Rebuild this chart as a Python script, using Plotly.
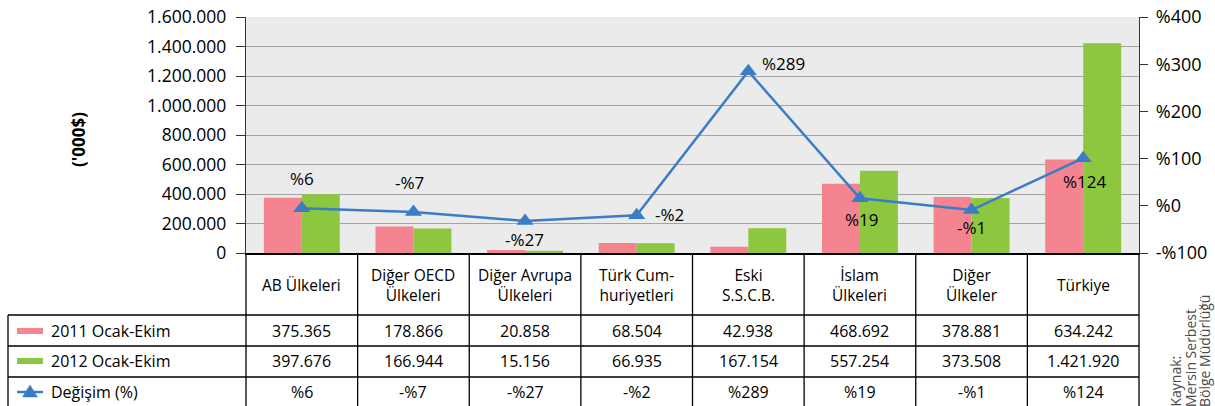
import plotly.graph_objects as go

# ---------------- data ----------------
categories = ["AB Ülkeleri", "Diğer OECD<br>Ülkeleri", "Diğer Avrupa<br>Ülkeleri",
              "Türk Cum-<br>huriyetleri", "Eski<br>S.S.C.B.", "İslam<br>Ülkeleri",
              "Diğer<br>Ülkeler", "Türkiye"]
series_names = ["2011 Ocak-Ekim", "2012 Ocak-Ekim", "Değişim (%)"]
values_2011 = [375365, 178866, 20858, 68504, 42938, 468692, 378881, 634242]
values_2012 = [397676, 166944, 15156, 66935, 167154, 557254, 373508, 1421920]
change_labels = ["%6", "-%7", "-%27", "-%2", "%289", "%19", "-%1", "%124"]
# positions of the line markers as drawn in the picture (right axis, %)
change_drawn = [-5, -13, -32, -20, 285, 16, -9, 101]
left_tick_vals = [0, 200000, 400000, 600000, 800000, 1000000, 1200000, 1400000, 1600000]
right_tick_vals = [-100, 0, 100, 200, 300, 400]
right_tick_text = ["-%100", "%0", "%100", "%200", "%300", "%400"]
y_title = "('000$)"
source_lines = ["Kaynak:", "Mersin Serbest", "Bölge Müdürlüğü"]

# ---------------- style ----------------
PINK = "#f4848f"
GREEN = "#8dc63f"
BLUE = "#3a7dc5"
FONT = "Open Sans"
FS = 15.5

W, H = 1215, 406
L, R, T, B = 246, 1139, 17, 253


def px(xp):
    return (xp - L) / (R - L)


def py(yp):
    return (B - yp) / (B - T)


def fmt(v):
    return f"{v:,}".replace(",", ".")


fig = go.Figure()
fig.add_trace(go.Bar(x=categories, y=values_2011, name=series_names[0],
                     marker=dict(color=PINK, line=dict(width=0))))
fig.add_trace(go.Bar(x=categories, y=values_2012, name=series_names[1],
                     marker=dict(color=GREEN, line=dict(width=0))))
fig.add_trace(go.Scatter(x=categories, y=change_drawn, name=series_names[2], yaxis="y2",
                         mode="lines+markers",
                         line=dict(color=BLUE, width=2.5),
                         marker=dict(symbol="triangle-up", size=15, color=BLUE)))

# data labels of the line (offsets in pixels are style)
label_style = [
    dict(xanchor="center", xshift=0, yshift=30),
    dict(xanchor="center", xshift=-4, yshift=29),
    dict(xanchor="center", xshift=-1, yshift=-19),
    dict(xanchor="left", xshift=16, yshift=1),
    dict(xanchor="left", xshift=12, yshift=8),
    dict(xanchor="center", xshift=2, yshift=-21),
    dict(xanchor="center", xshift=0, yshift=-17),
    dict(xanchor="center", xshift=1, yshift=-23),
]
annotations = []
for c, v, t, st in zip(categories, change_drawn, change_labels, label_style):
    annotations.append(dict(x=c, y=v, xref="x", yref="y2", text=t, showarrow=False,
                            yanchor="middle", font=dict(size=17, color="black"), **st))

# table header (category names)
for c in categories:
    annotations.append(dict(x=c, xref="x", y=py(285), yref="paper", text=c, showarrow=False,
                            xanchor="center", yanchor="middle", align="center",
                            font=dict(size=FS, color="black")))

# table rows
row_centers = [331, 361, 392]
rows = [[fmt(v) for v in values_2011], [fmt(v) for v in values_2012], change_labels]
for yc, row in zip(row_centers, rows):
    for c, t in zip(categories, row):
        annotations.append(dict(x=c, xref="x", y=py(yc), yref="paper", text=t, showarrow=False,
                                xanchor="center", yanchor="middle",
                                font=dict(size=16, color="black")))
for yc, name in zip(row_centers, series_names):
    annotations.append(dict(x=px(49), xref="paper", y=py(yc), yref="paper", text=name,
                            showarrow=False, xanchor="left", yanchor="middle",
                            font=dict(size=16, color="black")))

# axis title and source
annotations.append(dict(x=px(78), xref="paper", y=py(140), yref="paper", text="<b>" + y_title + "</b>",
                        showarrow=False, textangle=-90, xanchor="center", yanchor="middle",
                        font=dict(size=17, color="black")))
for xc, line in zip([1175, 1190, 1204], source_lines):
    annotations.append(dict(x=px(xc), xref="paper", y=py(409), yref="paper", text=line,
                            showarrow=False, textangle=-90, xanchor="center", yanchor="bottom",
                            font=dict(size=14, color="#4a4a4a")))

# table grid
shapes = []
line_style = dict(color="black", width=1.3)
n = len(categories)
col_w = (R - L) / n
for i in range(n + 1):
    xp = L + i * col_w
    shapes.append(dict(type="line", xref="paper", yref="paper", x0=px(xp), x1=px(xp),
                       y0=py(253), y1=py(412), line=line_style))
shapes.append(dict(type="line", xref="paper", yref="paper", x0=px(8), x1=px(8),
                   y0=py(315), y1=py(412), line=line_style))
for yp in [315, 346, 377]:
    shapes.append(dict(type="line", xref="paper", yref="paper", x0=px(8), x1=px(R),
                       y0=py(yp), y1=py(yp), line=line_style))
# legend keys in table
shapes.append(dict(type="rect", xref="paper", yref="paper", x0=px(17), x1=px(43),
                   y0=py(328), y1=py(334), fillcolor=PINK, line=dict(width=0)))
shapes.append(dict(type="rect", xref="paper", yref="paper", x0=px(17), x1=px(43),
                   y0=py(358), y1=py(364), fillcolor=GREEN, line=dict(width=0)))
shapes.append(dict(type="line", xref="paper", yref="paper", x0=px(17), x1=px(43),
                   y0=py(392), y1=py(392), line=dict(color=BLUE, width=2.5)))
tri = "M {:.5f},{:.5f} L {:.5f},{:.5f} L {:.5f},{:.5f} Z".format(
    px(22.5), py(397), px(37.5), py(397), px(30), py(385))
shapes.append(dict(type="path", xref="paper", yref="paper", path=tri,
                   fillcolor=BLUE, line=dict(color=BLUE, width=0.5)))

fig.update_layout(
    width=W, height=H,
    margin=dict(l=L, r=W - R, t=T, b=H - B, pad=0, autoexpand=False),
    paper_bgcolor="white",
    plot_bgcolor="#ebebeb",
    showlegend=False,
    barmode="group",
    bargap=0.32,
    bargroupgap=0,
    separators=",.",
    font=dict(family=FONT, size=FS, color="black"),
    xaxis=dict(type="category", showticklabels=False, ticks="", showgrid=False,
               showline=True, linecolor="black", linewidth=1.5, range=[-0.5, n - 0.5],
               zeroline=False, automargin=False),
    yaxis=dict(range=[0, 1600000], tickvals=left_tick_vals, tickformat=",d",
               showgrid=True, gridcolor="#a3a3a3", gridwidth=1.3,
               showline=True, linecolor="#333333", linewidth=1.3,
               ticks="outside", ticklen=9, tickcolor="#333333", tickwidth=1.3,
               ticklabelstandoff=6,
               zeroline=False, automargin=False, tickfont=dict(size=17.5, color="black")),
    yaxis2=dict(range=[-100, 400], overlaying="y", side="right",
                tickvals=right_tick_vals, ticktext=right_tick_text,
                showgrid=False, zeroline=False, automargin=False,
                showline=True, linecolor="#333333", linewidth=1.3,
                ticks="outside", ticklen=8, tickcolor="#333333", tickwidth=1.3,
                ticklabelstandoff=4,
                tickfont=dict(size=18, color="black")),
    annotations=annotations,
    shapes=shapes,
)

fig.write_html("out.html", config={"displayModeBar": False},
               post_script="document.body.style.margin='0';document.body.style.overflow='hidden';")
